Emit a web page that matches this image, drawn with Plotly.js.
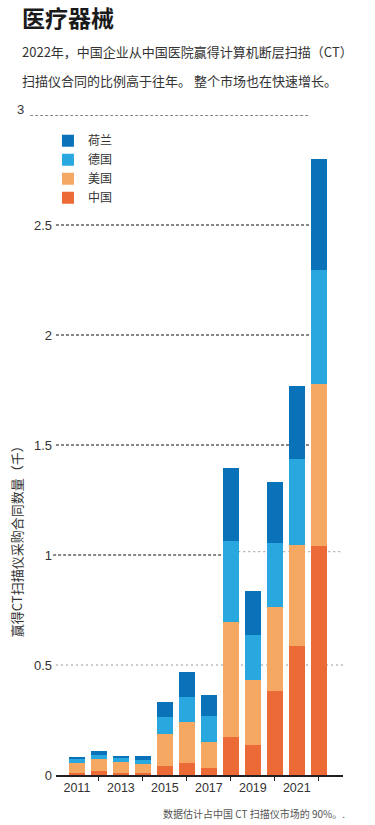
<!DOCTYPE html>
<html>
<head>
<meta charset="utf-8">
<script src="https://cdn.plot.ly/plotly-3.0.1.min.js"></script>
<style>
html,body{margin:0;padding:0;background:#fff;}
#chart{width:375px;height:825px;}
</style>
</head>
<body>
<div id="chart"></div>
<script>
// ---- data (thousands of CT scanner contracts won in Chinese hospitals) ----
var years = [2011, 2012, 2013, 2014, 2015, 2016, 2017, 2018, 2019, 2020, 2021, 2022];
var china       = [0.011, 0.020, 0.011, 0.009, 0.041, 0.055, 0.033, 0.173, 0.136, 0.383, 0.587, 1.041];
var usa         = [0.042, 0.053, 0.048, 0.040, 0.145, 0.184, 0.117, 0.524, 0.296, 0.379, 0.457, 0.737];
var germany     = [0.021, 0.016, 0.018, 0.018, 0.076, 0.117, 0.117, 0.368, 0.204, 0.291, 0.391, 0.517];
var netherlands = [0.008, 0.020, 0.008, 0.019, 0.070, 0.112, 0.095, 0.329, 0.200, 0.279, 0.333, 0.505];

var seriesNames = ['中国', '美国', '德国', '荷兰'];
var xTickVals = [2011, 2013, 2015, 2017, 2019, 2021];
var xTickText = ['2011', '2013', '2015', '2017', '2019', '2021'];
var xMinorTicks = [2012, 2014, 2016, 2018, 2020, 2022];
var yTickVals = [0, 0.5, 1, 1.5, 2, 2.5];
var yTickText = ['0', '0.5', '1', '1.5', '2', '2.5'];
var blackGrid = [1.5, 2, 2.5, 3];

var colors = ['#ec6a35', '#f5a862', '#29a8e0', '#0a72b8'];
var FONT = 'Liberation Sans, Arial, Noto Sans CJK SC, sans-serif';
var CJK = 'Noto Sans CJK SC, Liberation Sans, sans-serif';

var seriesVals = [china, usa, germany, netherlands];
var traces = seriesVals.map(function (vals, i) {
  return {
    type: 'bar',
    x: years,
    y: vals,
    name: seriesNames[i],
    marker: {color: colors[i], line: {width: 0}},
    hoverinfo: 'x+y+name'
  };
});

// gridlines as shapes (reference mixes black dashed and grey dotted lines)
var shapes = [];
blackGrid.forEach(function (v) {
  shapes.push({
    type: 'line', layer: 'below', xref: 'paper', yref: 'y',
    x0: v === 3 ? -0.09 : 0, x1: 0.882, y0: v, y1: v,
    line: {color: '#111', width: 1, dash: '3px,2px'}
  });
});
shapes.push({type: 'line', layer: 'below', xref: 'paper', yref: 'y',
  x0: -0.01, x1: 0.582, y0: 1, y1: 1, line: {color: '#111', width: 1, dash: '3px,2px'}});
shapes.push({type: 'line', layer: 'below', xref: 'paper', yref: 'y',
  x0: 0.635, x1: 1.0, y0: 1.015, y1: 1.015, line: {color: '#9a9a9a', width: 1, dash: '2px,3px'}});
shapes.push({type: 'line', layer: 'below', xref: 'paper', yref: 'y',
  x0: 0, x1: 1.0, y0: 0.5, y1: 0.5, line: {color: '#9a9a9a', width: 1, dash: '2px,3px'}});

var annotations = [
  {text: '<b>医疗器械</b>', xref: 'paper', yref: 'paper', x: -0.1254, y: 1.1485,
   xanchor: 'left', yanchor: 'middle', showarrow: false,
   font: {family: CJK, size: 23, color: '#1a1a1a', weight: 900}},
  {text: '2022年，中国企业从中国医院赢得计算机断层扫描（CT）', xref: 'paper', yref: 'paper',
   x: -0.1254, y: 1.0955, xanchor: 'left', yanchor: 'middle', showarrow: false,
   font: {family: CJK, size: 13, color: '#333'}},
  {text: '扫描仪合同的比例高于往年。 整个市场也在快速增长。', xref: 'paper', yref: 'paper',
   x: -0.1254, y: 1.0530, xanchor: 'left', yanchor: 'middle', showarrow: false,
   font: {family: CJK, size: 13, color: '#333'}},
  {text: '3', xref: 'paper', yref: 'paper', x: -0.1045, y: 1.009,
   xanchor: 'right', yanchor: 'middle', showarrow: false,
   font: {family: FONT, size: 13, color: '#333'}},
  {text: '赢得CT扫描仪采购合同数量（千）', xref: 'paper', yref: 'paper', x: -0.139, y: 0.359,
   xanchor: 'center', yanchor: 'middle', textangle: -90, showarrow: false,
   font: {family: CJK, size: 13, color: '#333'}},
  {text: '数据估计占中国 CT 扫描仪市场的 90%。.', xref: 'paper', yref: 'paper', x: 1.014, y: -0.0576,
   xanchor: 'right', yanchor: 'middle', showarrow: false,
   font: {family: CJK, size: 10, color: '#555'}}
];

var layout = {
  width: 375, height: 825,
  margin: {l: 56, r: 32, t: 115, b: 50, pad: 0},
  paper_bgcolor: '#fff', plot_bgcolor: '#fff',
  barmode: 'stack', bargap: 0.273,
  font: {family: FONT, size: 13, color: '#333'},
  showlegend: true,
  legend: {
    x: -0.028, y: 0.983, xanchor: 'left', yanchor: 'top',
    traceorder: 'reversed', bgcolor: 'rgba(0,0,0,0)',
    font: {family: CJK, size: 12, color: '#333'},
    tracegroupgap: 0
  },
  xaxis: {
    type: 'linear', range: [2010.05, 2023.1], fixedrange: true,
    tickmode: 'array', tickvals: xTickVals, ticktext: xTickText,
    ticks: '', showgrid: false, zeroline: false,
    showline: true, linecolor: '#231f20', linewidth: 2,
    tickfont: {family: FONT, size: 12.5, color: '#333'},
    minor: {tickmode: 'array', tickvals: xMinorTicks, ticks: 'outside', ticklen: 4,
            tickwidth: 1, tickcolor: '#231f20', showgrid: false}
  },
  yaxis: {
    range: [0, 3], fixedrange: true,
    tickmode: 'array', tickvals: yTickVals, ticktext: yTickText,
    ticks: '', showgrid: false, zeroline: false, showline: false,
    tickfont: {family: FONT, size: 13, color: '#333'},
    ticklabelstandoff: 3
  },
  shapes: shapes,
  annotations: annotations
};

Plotly.newPlot('chart', traces, layout, {displayModeBar: false, staticPlot: true});
</script>
</body>
</html>
